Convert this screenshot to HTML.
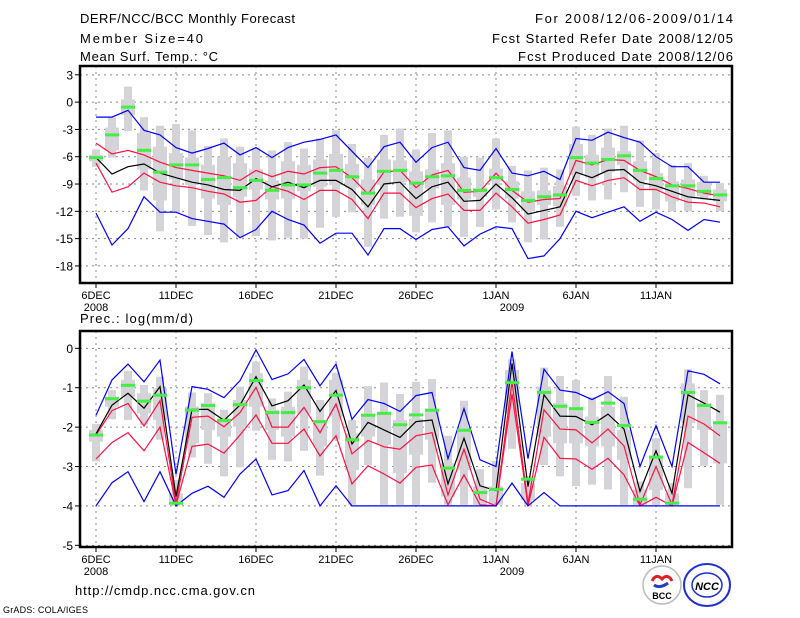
<!DOCTYPE html>
<html><head><meta charset="utf-8"><style>
body{margin:0;background:#fff;width:800px;height:618px;overflow:hidden}
svg{display:block}
text{font-family:"Liberation Sans",sans-serif;fill:#000}
</style></head><body>
<svg id="c" width="800" height="618" viewBox="0 0 800 618">
<g font-size="13">
<text x="80" y="23" textLength="215" lengthAdjust="spacing">DERF/NCC/BCC Monthly Forecast</text>
<text x="80" y="43" textLength="123" lengthAdjust="spacing">Member Size=40</text>
<text x="80" y="61" textLength="138" lengthAdjust="spacing">Mean Surf. Temp.: °C</text>
<text x="535" y="23" textLength="198" lengthAdjust="spacing">For 2008/12/06-2009/01/14</text>
<text x="492" y="43" textLength="241" lengthAdjust="spacing">Fcst Started Refer Date 2008/12/05</text>
<text x="518" y="61" textLength="215" lengthAdjust="spacing">Fcst Produced Date 2008/12/06</text>
<text x="80" y="323" textLength="113" lengthAdjust="spacing">Prec.: log(mm/d)</text>
<text x="75" y="595" textLength="180" lengthAdjust="spacing">http://cmdp.ncc.cma.gov.cn</text>
<text x="3" y="613" font-size="9" textLength="85" lengthAdjust="spacing">GrADS: COLA/IGES</text>
</g>
<g>
<circle cx="662" cy="585" r="19" fill="#fff" stroke="#bbb" stroke-width="1.5"/>
<path d="M652 581 q4 -8 10 -2 q6 -6 10 2" fill="none" stroke="#e02020" stroke-width="3"/>
<path d="M654 585 q6 4 14 -2" fill="none" stroke="#2040c0" stroke-width="3"/>
<text x="662" y="599" font-size="9" font-weight="bold" text-anchor="middle" fill="#222">BCC</text>
<ellipse cx="707" cy="585" rx="23" ry="21" fill="#fff" stroke="#2030d0" stroke-width="2"/>
<ellipse cx="707" cy="585" rx="15" ry="12" fill="none" stroke="#2030d0" stroke-width="1.5"/>
<text x="707" y="590" font-size="11" font-weight="bold" font-style="italic" text-anchor="middle" fill="#2030d0">NCC</text>
</g>
</svg>
<script>
// ---- Temperature panel data (°C) ----
const days = ["6DEC","11DEC","16DEC","21DEC","26DEC","1JAN","6JAN","11JAN"];
const tTicks = [3,0,-3,-6,-9,-12,-15,-18];
const tMax = [-1.65,-1.65,-0.9,-3.1,-3.6,-5.0,-5.6,-5.1,-4.5,-5.8,-5.0,-6.1,-5.0,-4.4,-4.1,-3.6,-5.4,-7.2,-4.9,-4.4,-6.6,-5.0,-4.4,-7.2,-7.5,-5.1,-7.8,-8.1,-7.6,-8.5,-4.0,-4.2,-3.3,-3.9,-4.4,-6.0,-7.1,-7.1,-8.8,-8.8];
const tHi = [-4.5,-5.7,-5.3,-5.8,-6.6,-7.2,-7.5,-7.8,-8.1,-8.6,-7.5,-8.2,-7.6,-7.9,-7.2,-7.1,-8.3,-10.1,-7.7,-7.5,-9.4,-8.0,-7.5,-9.9,-9.8,-7.8,-9.7,-11.0,-10.7,-10.6,-6.4,-6.9,-6.3,-6.4,-7.5,-8.2,-9.1,-9.5,-10.0,-10.3];
const tMean = [-6.1,-7.9,-7.1,-6.8,-7.8,-8.3,-8.8,-9.1,-9.6,-9.7,-8.4,-9.3,-8.8,-9.4,-8.6,-8.6,-9.6,-11.5,-9.0,-8.8,-10.6,-9.3,-8.8,-10.9,-10.8,-9.0,-10.5,-12.3,-11.9,-11.5,-7.7,-8.3,-7.5,-7.4,-8.8,-9.2,-9.8,-10.4,-10.6,-10.8];
const tLo = [-6.7,-9.9,-9.3,-7.8,-8.8,-9.2,-9.4,-9.8,-10.1,-11.0,-10.8,-9.3,-9.8,-10.7,-9.7,-9.7,-10.7,-12.8,-10.0,-10.0,-11.6,-10.6,-10.1,-11.9,-11.9,-10.0,-11.5,-13.3,-12.9,-12.4,-8.6,-9.2,-8.6,-8.3,-9.6,-9.6,-10.4,-11.0,-11.1,-11.5];
const tMin = [-12.2,-15.7,-13.9,-10.4,-12.1,-12.1,-12.8,-13.1,-13.4,-14.9,-14.0,-12.0,-12.9,-13.5,-15.5,-14.4,-14.4,-16.8,-13.9,-13.9,-15.1,-14.0,-13.7,-15.8,-14.5,-13.7,-13.9,-17.2,-16.9,-15.0,-12.0,-12.7,-12.1,-11.5,-13.1,-12.1,-12.9,-14.1,-12.9,-13.2];
const tObs = [-6.1,-3.6,-0.55,-5.3,-7.7,-6.9,-6.9,-8.5,-8.3,-9.4,-8.6,-9.7,-9.1,-9.1,-7.8,-7.5,-8.2,-10.0,-7.6,-7.5,-8.9,-8.2,-8.1,-9.7,-9.7,-8.3,-9.6,-10.8,-10.4,-10.2,-6.1,-6.7,-6.3,-5.9,-7.5,-8.4,-9.2,-9.2,-9.8,-10.2];
const tBoxTop = [-5.2,-1.7,1.7,-1.65,-2.6,-2.4,-3.1,-4.8,-4.0,-4.9,-5.0,-5.3,-4.4,-5.1,-4.0,-3.1,-4.6,-6.1,-3.6,-2.9,-5.2,-3.4,-3.1,-6.0,-6.1,-4.0,-7.0,-7.5,-7.2,-7.4,-2.7,-3.6,-2.9,-2.6,-4.2,-5.6,-6.9,-6.7,-8.1,-8.9];
const tQ3 = [-5.8,-2.8,0.3,-3.4,-4.9,-5.6,-6.1,-6.9,-6.0,-6.7,-7.4,-8.6,-6.5,-6.9,-6.3,-5.7,-6.8,-8.5,-6.3,-6.4,-7.6,-7.4,-6.7,-8.3,-9.4,-7.3,-8.7,-9.8,-9.7,-9.2,-4.6,-5.8,-5.0,-5.4,-6.5,-7.8,-8.7,-8.5,-8.8,-9.6];
const tQ1 = [-6.5,-5.3,-1.4,-7.4,-10.8,-8.5,-9.1,-10.6,-11.3,-10.4,-9.6,-10.7,-10.6,-9.8,-9.3,-9.1,-9.4,-11.3,-9.1,-8.8,-12.5,-9.5,-11.3,-10.7,-10.4,-8.7,-10.6,-12.0,-11.3,-11.4,-8.0,-8.3,-7.7,-6.9,-8.6,-9.7,-10.9,-10.6,-10.3,-10.9];
const tBoxBot = [-7.1,-6.1,-3.2,-9.7,-14.2,-12.2,-13.6,-14.6,-15.4,-14.9,-14.7,-15.2,-14.9,-15.0,-13.8,-12.6,-12.1,-15.9,-12.8,-12.6,-14.3,-13.2,-13.7,-14.8,-13.7,-11.8,-13.2,-15.4,-15.1,-13.7,-10.3,-10.8,-10.7,-9.9,-11.5,-11.8,-12.0,-12.0,-10.7,-12.0];
// ---- Precipitation panel data (log mm/d) ----
const pTicks = [0,-1,-2,-3,-4,-5];
const pMax = [-1.7,-0.8,-0.4,-0.85,-0.3,-3.2,-0.97,-1.04,-1.25,-0.82,-0.04,-0.79,-0.65,-0.28,-0.95,-0.4,-1.8,-1.3,-1.4,-1.6,-1.2,-1.12,-2.8,-1.53,-2.83,-3.0,-0.08,-2.8,-0.53,-1.06,-1.12,-1.3,-1.1,-1.4,-3.0,-1.96,-3.0,-0.57,-0.66,-0.9];
const pHi = [-2.2,-1.58,-1.4,-1.97,-1.33,-3.93,-1.75,-1.72,-1.99,-1.63,-0.99,-2.0,-2.0,-1.5,-2.14,-1.41,-2.68,-2.34,-2.5,-2.56,-2.22,-2.14,-3.72,-2.56,-3.83,-4.0,-0.85,-3.93,-1.56,-2.05,-2.07,-2.4,-2.05,-2.48,-3.97,-3.0,-3.97,-1.72,-1.92,-2.22];
const pMean = [-2.17,-1.44,-1.14,-1.52,-0.97,-3.76,-1.55,-1.55,-1.83,-1.44,-0.72,-1.46,-1.33,-0.93,-1.6,-1.07,-2.43,-1.88,-2.07,-2.26,-1.86,-1.82,-3.44,-2.28,-3.49,-3.61,-0.38,-3.51,-1.18,-1.72,-1.73,-1.94,-1.67,-2.05,-3.63,-2.6,-3.68,-1.18,-1.39,-1.62];
const pLo = [-2.81,-2.39,-2.14,-2.6,-2.0,-3.97,-2.49,-2.43,-2.66,-2.2,-1.69,-2.41,-2.41,-2.05,-2.73,-2.22,-3.44,-2.98,-3.19,-3.42,-3.02,-2.96,-3.97,-3.21,-3.97,-4.0,-1.16,-4.0,-2.26,-2.79,-2.81,-3.07,-2.79,-3.21,-4.0,-3.78,-4.0,-2.39,-2.65,-2.92];
const pMin = [-4,-3.41,-3.13,-3.89,-3.13,-4,-3.68,-3.5,-3.78,-3.19,-2.81,-3.72,-3.61,-3.1,-4,-3.49,-4,-4,-4,-4,-4,-4,-4,-4,-4,-4,-3.42,-4,-3.66,-4,-4,-4,-4,-4,-4,-4,-4,-4,-4,-4];
const pObs = [-2.2,-1.28,-0.94,-1.34,-1.19,-3.93,-1.57,-1.45,-1.83,-1.43,-0.82,-1.63,-1.63,-1.0,-1.86,-1.19,-2.32,-1.7,-1.65,-1.94,-1.69,-1.57,-3.04,-2.08,-3.66,-3.58,-0.87,-3.32,-1.12,-1.47,-1.53,-1.88,-1.39,-1.96,-3.83,-2.76,-3.93,-1.12,-1.45,-1.89];
const pBoxTop = [-1.92,-1.06,-0.57,-0.93,-0.72,-3.34,-1.12,-1.14,-1.56,-0.97,-0.34,-1.27,-1.1,-0.46,-1.31,-0.62,-1.82,-0.96,-0.87,-1.16,-0.85,-0.78,-2.22,-1.33,-3.07,-2.86,-0.28,-3.25,-0.49,-0.7,-0.8,-1.24,-0.7,-1.23,-3.38,-2.28,-3.42,-0.53,-1.06,-1.18];
const pQ3 = [-2.07,-1.23,-0.8,-1.14,-1.01,-3.68,-1.48,-1.39,-1.78,-1.31,-0.63,-1.56,-1.48,-0.8,-1.82,-0.8,-2.16,-1.65,-1.65,-1.82,-1.78,-1.56,-2.92,-1.99,-3.5,-3.5,-0.55,-3.42,-0.97,-1.39,-1.56,-1.73,-1.48,-2.07,-3.59,-2.75,-3.68,-0.89,-1.39,-1.9];
const pQ1 = [-2.37,-1.48,-1.23,-1.65,-1.82,-3.97,-2.41,-2.07,-2.24,-1.99,-1.48,-2.07,-2.24,-1.65,-2.49,-1.73,-3.09,-2.24,-2.45,-3.17,-2.7,-2.32,-3.76,-3.09,-3.97,-3.97,-1.65,-3.85,-2.24,-2.41,-2.41,-2.49,-2.49,-2.83,-3.97,-3.59,-3.97,-1.9,-2.07,-2.92];
const pBoxBot = [-2.87,-1.8,-1.82,-1.94,-2.32,-4.0,-2.77,-2.93,-3.25,-3.02,-2.09,-2.83,-2.87,-2.6,-3.23,-2.32,-3.97,-2.96,-3.97,-3.97,-3.97,-3.41,-3.97,-3.97,-3.97,-3.97,-2.55,-3.97,-2.96,-3.25,-3.5,-3.46,-3.58,-3.97,-3.97,-3.97,-3.97,-3.55,-2.98,-3.97];

const NS="http://www.w3.org/2000/svg";
const svg=document.getElementById('c');
function el(tag,attrs,parent){const e=document.createElementNS(NS,tag);for(const k in attrs)e.setAttribute(k,attrs[k]);(parent||svg).appendChild(e);return e;}
const X0=80,X1=732;
function xDay(i){return 96+16*i;}

function panel(cfg){
  const g=el('g',{});
  
  
  const yS=v=>cfg.y0+(cfg.top-v)*cfg.k;
  cfg.ticks.forEach(t=>{
    const y=yS(t);
    const l=el('line',{x1:X0,x2:X1,y1:y,y2:y,stroke:'#888','stroke-dasharray':'2,4','stroke-width':1},g);
    
    
    el('line',{x1:X0-5,x2:X0,y1:y,y2:y,stroke:'#000','stroke-width':1},g);
    const tx=el('text',{x:X0-7,y:y+4.5,'font-size':12,'text-anchor':'end'},g);
    tx.textContent=t;
    
    
  });
  days.forEach((d,j)=>{
    const x=xDay(j*5);
    const l=el('line',{x1:x,x2:x,y1:cfg.y0,y2:cfg.y1,stroke:'#888','stroke-dasharray':'2,4','stroke-width':1},g);
    
    
    el('line',{x1:x,x2:x,y1:cfg.y1,y2:cfg.y1+5,stroke:'#000','stroke-width':1},g);
    const tx=el('text',{x:x,y:cfg.y1+16,'font-size':11,'text-anchor':'middle'},g);
    tx.textContent=d;
    
    
  });
  [['2008',0],['2009',26]].forEach(([yr,i])=>{
    const tx=el('text',{x:xDay(i),y:cfg.y1+28,'font-size':11,'text-anchor':'middle'},g);
    tx.textContent=yr;
    
    
  });
  for(let i=0;i<40;i++){
    const x=xDay(i);
    const w=el('rect',{x:x-4,y:yS(cfg.bt[i]),width:8,height:Math.max(1,yS(cfg.bb[i])-yS(cfg.bt[i])),fill:'#d3d3d8'},g);
    
    
    const b=el('rect',{x:x-7,y:yS(cfg.q3[i]),width:14,height:Math.max(1,yS(cfg.q1[i])-yS(cfg.q3[i])),fill:'#d3d3d8'},g);
    
    
  }
  const series=[[cfg.mx,'#0000ff','max-line'],[cfg.hi,'#ff1040','upper-line'],[cfg.lo,'#ff1040','lower-line'],[cfg.mn,'#0000ff','min-line'],[cfg.mean,'#000','mean-line']];
  series.forEach(([arr,col,nm])=>{
    const p=el('polyline',{points:arr.map((v,i)=>xDay(i)+','+yS(v).toFixed(1)).join(' '),fill:'none',stroke:col,'stroke-width':1.2},g);
    
    
  });
  cfg.obs.forEach((v,i)=>{
    const r=el('rect',{x:xDay(i)-7,y:yS(v)-1.5,width:14,height:3,fill:'#44ee44'},g);
    
    
  });
  const f=el('rect',{x:X0,y:cfg.y0,width:X1-X0,height:cfg.y1-cfg.y0,fill:'none',stroke:'#000','stroke-width':2.5},g);
  
  
}
panel({name:'temperature-panel',y0:66,y1:283,top:3.97,k:9.1,ticks:tTicks,mx:tMax,hi:tHi,mean:tMean,lo:tLo,mn:tMin,obs:tObs,bt:tBoxTop,q3:tQ3,q1:tQ1,bb:tBoxBot});
panel({name:'precipitation-panel',y0:331,y1:547,top:0.44,k:39.4,ticks:pTicks,mx:pMax,hi:pHi,mean:pMean,lo:pLo,mn:pMin,obs:pObs,bt:pBoxTop,q3:pQ3,q1:pQ1,bb:pBoxBot});
</script>
</body></html>
